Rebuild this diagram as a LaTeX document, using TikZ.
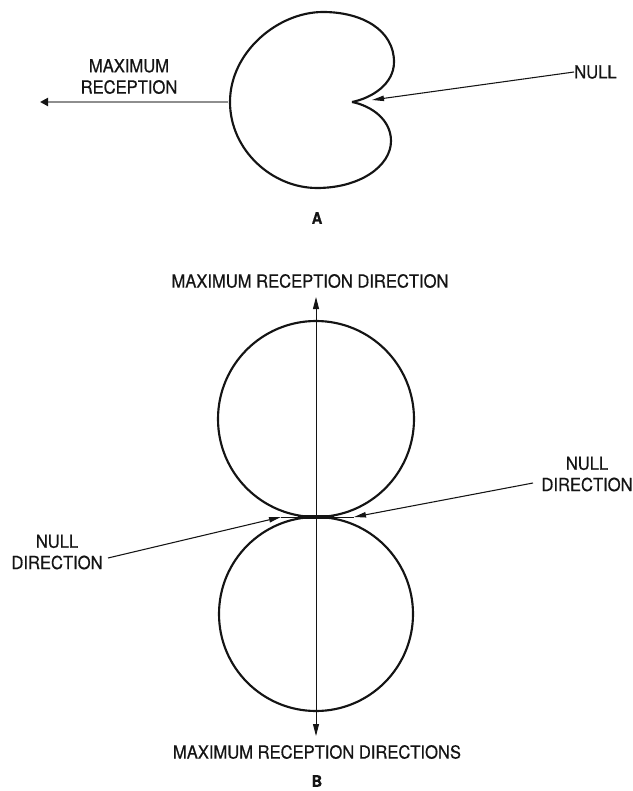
\documentclass[tikz,border=0pt]{standalone}
\usepackage{fontspec}
\setmainfont{TeX Gyre Heros}[FakeStretch=0.92, FakeBold=0.6]
\usetikzlibrary{arrows.meta}
\definecolor{inkblack}{HTML}{141414}
\definecolor{fadegray}{HTML}{8E8E8E}
\tikzset{
  patternline/.style={
    draw=inkblack,
    line width=1.6pt
  },
  leader/.style={
    -{Triangle[length=9pt,width=4pt]},
    draw=inkblack,
    line width=0.8pt
  },
  axisline/.style={
    {Triangle[length=9pt,width=4.5pt]}-{Triangle[length=9pt,width=4.5pt]},
    draw=inkblack,
    line width=0.7pt
  },
  maxarrow/.style={
    -{Triangle[length=6pt,width=6pt,color=inkblack]},
    draw=fadegray,
    line width=2.2pt
  },
  labeltext/.style={
    font=\fontsize{13.5}{16}\selectfont,
    align=center,
    inner sep=0pt,
    text=inkblack
  },
  partlabel/.style={
    font=\fontsize{12}{14}\selectfont\bfseries,
    inner sep=0pt,
    text=inkblack
  }
}

\begin{document}
\begin{tikzpicture}[x=0.75pt, y=-0.75pt]
    \useasboundingbox (0,0) rectangle (632,791);

    % part A: cardioid pattern
    \coordinate (cusp) at (352,102);
    \coordinate (cardLeft) at (228,102);
    \coordinate (maxTip) at (40,102);
    \coordinate (cuspTip) at (372,100);
    \draw[patternline, line join=miter] (cusp)
        .. controls (372,98) and (394,84) .. (394,62)
        .. controls (394,30) and (362,12) .. (323,12)
        .. controls (278,12) and (230,52) .. (230,102)
        .. controls (230,150) and (272,188) .. (317,188)
        .. controls (360,188) and (391,166) .. (391,141)
        .. controls (391,120) and (372,106) .. (cusp);

    \node[labeltext] (maxlabel) at (129,76.5) {MAXIMUM\\RECEPTION};
    \node[labeltext, anchor=west] (nulllabel) at (574,72) {NULL};
    \node[partlabel] (partA) at (317,218) {A};

    \draw[maxarrow] (cardLeft) -- (maxTip);
    \draw[leader] (nulllabel.west) -- (cuspTip);

    % part B: figure-eight pattern
    \coordinate (upperC) at (316,419);
    \coordinate (lowerC) at (316,614);
    \coordinate (axTop) at (316,297);
    \coordinate (axBot) at (316,736);
    \coordinate (touchL) at (281,517);
    \coordinate (touchR) at (354,517);
    \coordinate (nlStart) at (108,558);
    \coordinate (nrStart) at (533,483);

    \draw[patternline] (upperC) circle[radius=73.5pt];
    \draw[patternline] (lowerC) circle[radius=72.75pt];
    \draw[axisline] (axBot) -- (axTop);
    \draw[draw=inkblack, line width=0.7pt] (touchL) -- (touchR);
    \draw[draw=inkblack, line width=3.5pt, line cap=round] (300,517) -- (332,517);

    \node[labeltext] (maxtop) at (310,281) {MAXIMUM RECEPTION DIRECTION};
    \node[labeltext] (maxbot) at (317,752) {MAXIMUM RECEPTION DIRECTIONS};
    \node[labeltext] (nullleft) at (57,552) {NULL\\DIRECTION};
    \node[labeltext] (nullright) at (587,474) {NULL\\DIRECTION};
    \node[partlabel] (partB) at (317,781) {B};

    \draw[leader] (nlStart) -- (touchL);
    \draw[leader] (nrStart) -- (touchR);
\end{tikzpicture}
\end{document}
